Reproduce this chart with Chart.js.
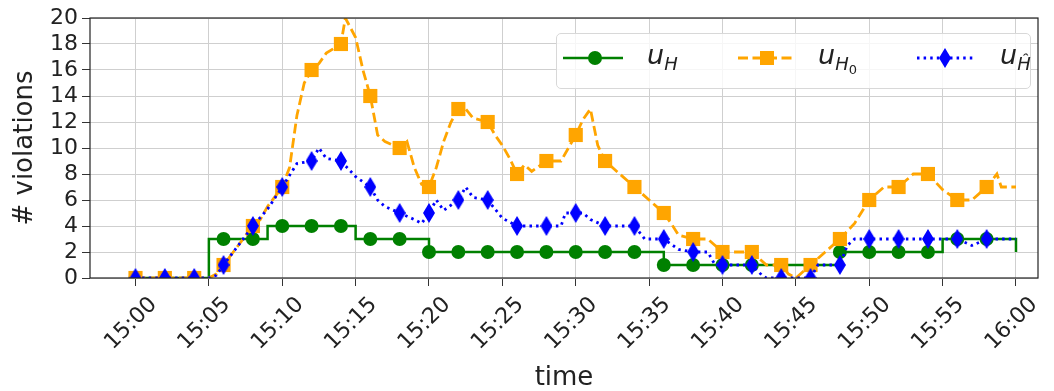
<!DOCTYPE html>
<html lang="en">
<head>
    <meta charset="UTF-8">
    <title># violations over time</title>
    <script src="https://cdn.jsdelivr.net/npm/chart.js"></script>
    <style>
        body {
            margin: 0;
            background: #fff;
            font-family: 'DejaVu Sans', sans-serif;
        }
        .wrap {
            position: relative;
            width: 1054px;
            height: 391px;
        }
        .legend {
            position: absolute;
            left: 556px;
            top: 33px;
            width: 475px;
            height: 56px;
            border: 1px solid #d8d8d8;
            border-radius: 5px;
            background: rgba(255, 255, 255, 0.8);
            box-sizing: border-box;
        }
        .legend svg {
            position: absolute;
            top: 10px;
        }
        .lab {
            position: absolute;
            top: 6px;
            font-size: 27px;
            font-style: italic;
            color: #222;
            white-space: nowrap;
            line-height: 30px;
        }
        .lab sub {
            font-size: 18px;
            vertical-align: -6px;
            line-height: 0;
        }
        .lab sub sub {
            font-size: 13px;
            font-style: normal;
            vertical-align: -4px;
        }
    </style>
</head>
<body>
<div class="wrap">
    <canvas id="chart" width="1054" height="391"></canvas>
    <div class="legend">
        <svg style="left:6px" width="62" height="30">
            <line x1="0" y1="14" x2="60" y2="14" stroke="green" stroke-width="2.5"/>
            <circle cx="32" cy="14" r="7" fill="green"/>
        </svg>
        <span class="lab" style="left:90px">u<sub>H</sub></span>
        <svg style="left:181px" width="62" height="30">
            <line x1="0" y1="14" x2="58" y2="14" stroke="orange" stroke-width="2.8" stroke-dasharray="10 4.5"/>
            <rect x="22" y="7" width="14" height="14" fill="orange"/>
        </svg>
        <span class="lab" style="left:261px">u<sub>H<sub>0</sub></sub></span>
        <svg style="left:360px" width="62" height="30">
            <line x1="0" y1="14" x2="56" y2="14" stroke="blue" stroke-width="2.8" stroke-dasharray="2.5 4.1"/>
            <polygon points="28,4 34,14 28,24 22,14" fill="blue"/>
        </svg>
        <span class="lab" style="left:443px">u<sub>Ĥ</sub></span>
    </div>
</div>
<script>
    // minutes after 15:00
    const xTickMinutes = [0, 5, 10, 15, 20, 25, 30, 35, 40, 45, 50, 55, 60];
    const xTickLabels = ['15:00', '15:05', '15:10', '15:15', '15:20', '15:25', '15:30',
                         '15:35', '15:40', '15:45', '15:50', '15:55', '16:00'];

    // u_H (stepped)
    const uHTimes = [0, 1, 2, 3, 4, 5, 6, 7, 8, 9, 10, 11, 12, 13, 14, 15, 16, 17, 18, 19, 20,
                     21, 22, 23, 24, 25, 26, 27, 28, 29, 30, 31, 32, 33, 34, 35, 36, 37, 38, 39, 40,
                     41, 42, 43, 44, 45, 46, 47, 48, 49, 50, 51, 52, 53, 54, 55, 56, 57, 58, 59, 60];
    const uHValues = [0, 0, 0, 0, 0, 3, 3, 3, 3, 4, 4, 4, 4, 4, 4, 3, 3, 3, 3, 3, 2,
                      2, 2, 2, 2, 2, 2, 2, 2, 2, 2, 2, 2, 2, 2, 2, 1, 1, 1, 1, 1,
                      1, 1, 1, 1, 1, 1, 1, 2, 2, 2, 2, 2, 2, 2, 3, 3, 3, 3, 3, 2];

    // u_H0
    const uH0Times = [0, 1, 2, 3, 4, 5, 5.5, 6, 7, 8, 8.5, 9, 10, 10.5, 11, 11.5, 12, 12.5, 13, 14,
                      14.3, 15, 15.5, 16, 16.5, 17, 18, 18.5, 19, 19.5, 20, 20.5, 21, 21.5, 22, 22.5,
                      23, 24, 24.5, 25, 25.5, 26, 26.5, 27, 28, 29, 29.5, 30, 30.5, 31, 31.5, 32, 33,
                      34, 35, 36, 36.5, 37, 38, 39, 39.5, 40, 41, 42, 42.5, 43, 44, 44.5, 45, 45.5,
                      46, 47, 48, 49, 50, 51, 52, 53, 54, 55, 56, 57, 58, 58.7, 59, 60];
    const uH0Values = [0, 0, 0, 0, 0, 0, 0.3, 1, 2.5, 4, 4.5, 5.5, 7, 8.5, 12.5, 15, 16, 16.5, 17.3, 18,
                       20, 18.5, 16, 14, 11, 10.5, 10, 10.5, 8.5, 7.2, 7, 8.5, 10.5, 12, 13, 13,
                       12.3, 12, 11, 10.2, 9.2, 8, 8.7, 8.2, 9, 9, 10, 11, 12.2, 13, 10.2, 9, 8,
                       7, 6, 5, 4.2, 3.3, 3, 3, 2.5, 2, 2, 2, 1.5, 1, 1, 0.3, 0, 0.5,
                       1, 2, 3, 4.2, 6, 7, 7, 8, 8, 6.8, 6, 6, 7, 8, 7, 7];

    // u_Ĥ
    const uHatTimes = [0, 1, 2, 3, 4, 5, 5.5, 6, 7, 8, 9, 10, 11, 12, 12.5, 13, 14, 15, 16, 16.5,
                       17, 18, 19, 19.5, 20, 20.5, 21, 22, 22.5, 23, 24, 25, 26, 27, 28, 29, 29.3,
                       30, 30.5, 31, 32, 33, 34, 34.7, 35, 36, 37, 38, 39, 39.5, 40, 41, 42, 42.7,
                       43, 44, 45, 46, 46.5, 47, 48, 48.5, 49, 50, 51, 52, 53, 54, 55, 56, 57, 58, 59, 60];
    const uHatValues = [0, 0, 0, 0, 0, 0, 0.2, 1, 2.5, 4, 5.3, 7, 8.8, 9, 10, 9.2, 9, 7.8, 7, 6,
                        5.5, 5, 4.5, 4.2, 5, 6, 5.2, 6, 7, 6.2, 6, 4.6, 4, 4, 4, 4, 5,
                        5, 5, 4.5, 4, 4, 4, 3, 3, 3, 2.2, 2, 2, 1, 1, 1, 1, 0.2,
                        0, 0, 0, 0, 1, 1, 1, 2.5, 3, 3, 3, 3, 3, 3, 3, 3, 2.5, 3, 3, 3];

    const pts = (xs, ys) => xs.map((x, i) => ({ x: x, y: ys[i] }));
    // markers every 2 minutes, last one at 15:58
    const isMarker = ctx => ctx.raw && ctx.raw.x % 2 === 0 && ctx.raw.x < 60;

    // thin diamond marker
    const diamond = document.createElement('canvas');
    diamond.width = 12;
    diamond.height = 20;
    const dctx = diamond.getContext('2d');
    dctx.fillStyle = 'blue';
    dctx.beginPath();
    dctx.moveTo(6, 0);
    dctx.lineTo(12, 10);
    dctx.lineTo(6, 20);
    dctx.lineTo(0, 10);
    dctx.closePath();
    dctx.fill();

    const frame = {
        id: 'frame',
        afterDatasetsDraw(chart) {
            const a = chart.chartArea;
            const c = chart.ctx;
            c.save();
            c.strokeStyle = '#222';
            c.lineWidth = 1.2;
            c.strokeRect(a.left, a.top, a.right - a.left, a.bottom - a.top);
            c.restore();
        }
    };

    const tickFont = { family: 'DejaVu Sans', size: 22 };
    const titleFont = { family: 'DejaVu Sans', size: 26, lineHeight: 1.0 };

    new Chart(document.getElementById('chart'), {
        type: 'line',
        data: {
            datasets: [{
                label: 'uH',
                data: pts(uHTimes, uHValues),
                borderColor: 'green',
                backgroundColor: 'green',
                borderWidth: 2.5,
                stepped: 'before',
                pointStyle: 'circle',
                pointRadius: ctx => isMarker(ctx) ? 7 : 0,
                pointBorderWidth: 0,
                order: 3
            }, {
                label: 'uH0',
                data: pts(uH0Times, uH0Values),
                borderColor: 'orange',
                backgroundColor: 'orange',
                borderWidth: 2.8,
                borderDash: [10, 4.5],
                pointStyle: 'rect',
                pointRadius: ctx => isMarker(ctx) ? 10 : 0,
                pointBorderWidth: 0,
                order: 2
            }, {
                label: 'uHhat',
                data: pts(uHatTimes, uHatValues),
                borderColor: 'blue',
                backgroundColor: 'blue',
                borderWidth: 2.8,
                borderDash: [2.5, 4.1],
                pointStyle: diamond,
                pointRadius: ctx => isMarker(ctx) ? 6 : 0,
                order: 1
            }]
        },
        options: {
            responsive: false,
            animation: false,
            layout: { padding: { left: 0, right: 16, top: 18, bottom: 0 } },
            plugins: {
                legend: { display: false },
                tooltip: { enabled: false }
            },
            elements: { line: { tension: 0 } },
            scales: {
                x: {
                    type: 'linear',
                    min: -3.1,
                    max: 61.5,
                    afterBuildTicks: scale => {
                        scale.ticks = xTickMinutes.map(v => ({ value: v }));
                    },
                    afterFit: scale => { scale.height = 113; },
                    ticks: {
                        autoSkip: false,
                        minRotation: 45,
                        maxRotation: 45,
                        padding: 6,
                        labelOffset: 18,
                        color: '#222',
                        font: tickFont,
                        callback: (v, i) => xTickLabels[i]
                    },
                    grid: { color: '#cfcfcf', lineWidth: 1, tickLength: 8, tickColor: '#333' },
                    border: { display: false },
                    title: { display: true, text: 'time', color: '#222', font: titleFont, padding: { top: 0, bottom: 0 } }
                },
                y: {
                    min: 0,
                    max: 20,
                    afterFit: scale => { scale.width = 90; },
                    ticks: { stepSize: 2, autoSkip: false, color: '#222', font: tickFont, padding: 4 },
                    grid: { color: '#cfcfcf', lineWidth: 1, tickLength: 8, tickColor: '#333' },
                    border: { display: false },
                    title: { display: true, text: '# violations', color: '#222', font: titleFont, padding: { top: 12, bottom: 0 } }
                }
            }
        },
        plugins: [frame]
    });
</script>
</body>
</html>
